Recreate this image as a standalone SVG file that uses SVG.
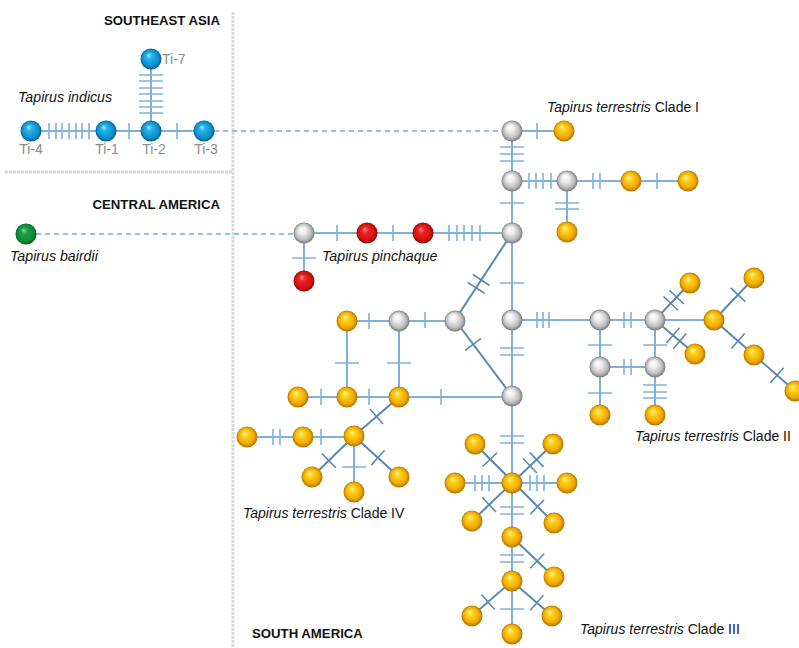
<svg xmlns="http://www.w3.org/2000/svg" xmlns:xlink="http://www.w3.org/1999/xlink" width="799" height="648" viewBox="0 0 799 648">
<defs>
<radialGradient id="gY" cx="0.5" cy="0.5" r="0.5" fx="0.38" fy="0.3"><stop offset="0" stop-color="#fff5b0"/><stop offset="0.3" stop-color="#ffd21a"/><stop offset="0.75" stop-color="#f0a800"/><stop offset="1" stop-color="#b07400"/></radialGradient>
<radialGradient id="gG" cx="0.5" cy="0.5" r="0.5" fx="0.38" fy="0.3"><stop offset="0" stop-color="#ffffff"/><stop offset="0.35" stop-color="#eeeeee"/><stop offset="0.75" stop-color="#bdbdbd"/><stop offset="1" stop-color="#7a7a7a"/></radialGradient>
<radialGradient id="gB" cx="0.5" cy="0.5" r="0.5" fx="0.38" fy="0.3"><stop offset="0" stop-color="#a8e8ff"/><stop offset="0.3" stop-color="#22b2ec"/><stop offset="0.8" stop-color="#0d8cc8"/><stop offset="1" stop-color="#065a8a"/></radialGradient>
<radialGradient id="gR" cx="0.5" cy="0.5" r="0.5" fx="0.38" fy="0.3"><stop offset="0" stop-color="#ff9a9a"/><stop offset="0.3" stop-color="#f02424"/><stop offset="0.8" stop-color="#d01010"/><stop offset="1" stop-color="#880000"/></radialGradient>
<radialGradient id="gN" cx="0.5" cy="0.5" r="0.5" fx="0.38" fy="0.3"><stop offset="0" stop-color="#7ee09a"/><stop offset="0.3" stop-color="#1ea048"/><stop offset="0.8" stop-color="#0f8a38"/><stop offset="1" stop-color="#075a20"/></radialGradient>
<line id="x" x1="0" y1="-10" x2="0" y2="10" stroke="#5a88b4" stroke-width="1.6"/>
<style>
.e{stroke:#80b1dc;stroke-width:2;fill:none}
.d{stroke:#5a88b4;stroke-width:2;fill:none}
.t{stroke:#80b1dc;stroke-width:1.6;fill:none}
.dash{stroke:#8fc0ec;stroke-width:1.8;stroke-dasharray:5 4;fill:none}
.div{stroke:#d8d8d8;stroke-width:3;fill:none;stroke-dasharray:3 1}
.y{fill:url(#gY)}.g{fill:url(#gG)}.b{fill:url(#gB)}.r{fill:url(#gR)}.n{fill:url(#gN)}
.hd{font-family:"Liberation Sans",Arial,sans-serif;font-weight:bold;font-size:13.2px;fill:#111}
.it{font-family:"Liberation Sans",Arial,sans-serif;font-style:italic;font-size:14.2px;fill:#111}
.lb{font-family:"Liberation Sans",Arial,sans-serif;font-size:14px;fill:#111}
.ti{font-family:"Liberation Sans",Arial,sans-serif;font-size:14px;fill:#8c8c8c}
</style>
</defs>
<rect width="799" height="648" fill="#ffffff"/>
<g id="dividers">
<line class="div" x1="233" y1="12" x2="233" y2="648"/>
<line class="div" x1="5" y1="172" x2="233" y2="172"/>
</g>
<g id="regions">
<text class="hd" x="220" y="25" text-anchor="end">SOUTHEAST ASIA</text>
<text class="hd" x="220" y="209" text-anchor="end">CENTRAL AMERICA</text>
<text class="hd" x="252" y="638">SOUTH AMERICA</text>
</g>
<g id="connectors">
<path class="dash" d="M214 131H502M36 234H294"/>
<path class="e" d="M31 131H204M151 131V59M512 131H564M512 131V233M512 181H688M567 181V232M304 233H512M304 233V281M512 233V396M347 321H455M347 321V397M399 321V397M298 397H512M247 437H354M354 436V492M512 320H655M655 320H714M600 320V415M655 320V415M600 367H655M512 396V634M455 483H567"/>
<path class="d" d="M512 233L455 320L512 396M655 320L690 283M655 320L695 354M714 320L754 278M714 320L754 355L795 391M399 397L354 436L312 477M354 436L399 477M475 444L553 522M553 444L472 521M512 537L554 577M472 616L512 581L552 616"/>
<path class="t" d="M49 123v16M56 123v16M62 123v16M69 123v16M76 123v16M82 123v16M89 123v16M129 123v16M177 123v16M537 123v16M529 173v16M536 173v16M543 173v16M551 173v16M593 173v16M600 173v16M657 173v16M337 225v16M393 225v16M449 225v16M457 225v16M464 225v16M472 225v16M480 225v16M369 313v16M425 312v16M537 312v16M543 312v16M549 312v16M624 312v16M631 312v16M624 359v16M631 359v16M321 389v16M369 389v16M441 389v16M273 429v16M280 429v16M321 429v16M475 475v16M482 475v16M489 475v16M530 475v16M537 475v16M544 475v16"/>
<path class="t" d="M139 75h24M139 81h24M139 88h24M139 94h24M139 101h24M139 107h24M139 113h24M500 147h24M500 154h24M500 161h24M500 203h24M555 203h24M555 209h24M292 258h24M500 283h24M500 348h24M500 355h24M588 345h24M643 345h24M588 393h24M643 385h24M643 392h24M643 398h24M335 363h24M387 363h24M342 467h24M500 436h24M500 443h24M500 507h24M500 514h24M500 555h24M500 562h24M500 609h24"/>
<use href="#x" transform="translate(481.2 280) rotate(123.2)"/>
<use href="#x" transform="translate(476.1 287.8) rotate(123.2)"/>
<use href="#x" transform="translate(473.2 344.3) rotate(53.1)"/>
<use href="#x" transform="translate(670.8 303.4) rotate(-46.6)"/>
<use href="#x" transform="translate(676.7 297.1) rotate(-46.6)"/>
<use href="#x" transform="translate(673 335.3) rotate(40.4)"/>
<use href="#x" transform="translate(679.8 341.1) rotate(40.4)"/>
<use href="#x" transform="translate(738 294.8) rotate(-46.4)"/>
<use href="#x" transform="translate(738 341) rotate(41.2)"/>
<use href="#x" transform="translate(777 375.2) rotate(41.3)"/>
<use href="#x" transform="translate(376.5 416.5) rotate(139.1)"/>
<use href="#x" transform="translate(328.8 460.6) rotate(135.7)"/>
<use href="#x" transform="translate(377.9 457.7) rotate(42.3)"/>
<use href="#x" transform="translate(489.8 459.6) rotate(46.5)"/>
<use href="#x" transform="translate(530 465.8) rotate(-43.6)"/>
<use href="#x" transform="translate(536.6 459.6) rotate(-43.6)"/>
<use href="#x" transform="translate(489.2 504.7) rotate(136.5)"/>
<use href="#x" transform="translate(537.2 507) rotate(43.6)"/>
<use href="#x" transform="translate(537.2 561) rotate(43.6)"/>
<use href="#x" transform="translate(488 602) rotate(138.8)"/>
<use href="#x" transform="translate(536.8 602.7) rotate(41.2)"/>
</g>
<g id="labels">
<text class="it" x="18" y="102">Tapirus indicus</text>
<text class="it" x="10" y="261">Tapirus bairdii</text>
<text class="it" x="322" y="261">Tapirus pinchaque</text>
<text class="lb" x="547" y="112"><tspan font-style="italic">Tapirus terrestris</tspan> Clade I</text>
<text class="lb" x="635" y="441"><tspan font-style="italic">Tapirus terrestris</tspan> Clade II</text>
<text class="lb" x="580" y="634"><tspan font-style="italic">Tapirus terrestris</tspan> Clade III</text>
<text class="lb" x="243" y="518"><tspan font-style="italic">Tapirus terrestris</tspan> Clade IV</text>
</g>
<g id="n-ti4"><circle class="b" cx="31" cy="131" r="10.5"/><text class="ti" x="31" y="154" text-anchor="middle">Ti-4</text></g>
<g id="n-ti1"><circle class="b" cx="106" cy="131" r="10.5"/><text class="ti" x="107" y="154" text-anchor="middle">Ti-1</text></g>
<g id="n-ti2"><circle class="b" cx="151" cy="131" r="10.5"/><text class="ti" x="154" y="154" text-anchor="middle">Ti-2</text></g>
<g id="n-ti3"><circle class="b" cx="204" cy="131" r="10.5"/><text class="ti" x="206" y="154" text-anchor="middle">Ti-3</text></g>
<g id="n-ti7"><circle class="b" cx="151" cy="59" r="10.5"/><text class="ti" x="162" y="64">Ti-7</text></g>
<g id="n-bairdii"><circle class="n" cx="26" cy="234" r="10.5"/></g>
<g id="n-g1"><circle class="g" cx="512" cy="131" r="10.5"/></g>
<g id="n-g2"><circle class="g" cx="512" cy="181" r="10.5"/></g>
<g id="n-g3"><circle class="g" cx="567" cy="181" r="10.5"/></g>
<g id="n-g4"><circle class="g" cx="512" cy="233" r="10.5"/></g>
<g id="n-g5"><circle class="g" cx="304" cy="233" r="10.5"/></g>
<g id="n-g6"><circle class="g" cx="455" cy="321" r="10.5"/></g>
<g id="n-g7"><circle class="g" cx="399" cy="321" r="10.5"/></g>
<g id="n-g8"><circle class="g" cx="512" cy="320" r="10.5"/></g>
<g id="n-g9"><circle class="g" cx="512" cy="396" r="10.5"/></g>
<g id="n-g10"><circle class="g" cx="600" cy="320" r="10.5"/></g>
<g id="n-g11"><circle class="g" cx="655" cy="320" r="10.5"/></g>
<g id="n-g12"><circle class="g" cx="600" cy="367" r="10.5"/></g>
<g id="n-g13"><circle class="g" cx="655" cy="367" r="10.5"/></g>
<g id="n-r1"><circle class="r" cx="367" cy="233" r="10.5"/></g>
<g id="n-r2"><circle class="r" cx="423" cy="233" r="10.5"/></g>
<g id="n-r3"><circle class="r" cx="304" cy="281" r="10.5"/></g>
<g id="n-y1"><circle class="y" cx="564" cy="131" r="10.5"/></g>
<g id="n-y2"><circle class="y" cx="631" cy="181" r="10.5"/></g>
<g id="n-y3"><circle class="y" cx="688" cy="181" r="10.5"/></g>
<g id="n-y4"><circle class="y" cx="567" cy="232" r="10.5"/></g>
<g id="n-y5"><circle class="y" cx="690" cy="283" r="10.5"/></g>
<g id="n-y6"><circle class="y" cx="754" cy="278" r="10.5"/></g>
<g id="n-y7"><circle class="y" cx="714" cy="320" r="10.5"/></g>
<g id="n-y8"><circle class="y" cx="695" cy="354" r="10.5"/></g>
<g id="n-y9"><circle class="y" cx="754" cy="355" r="10.5"/></g>
<g id="n-y10"><circle class="y" cx="795" cy="391" r="10.5"/></g>
<g id="n-y11"><circle class="y" cx="600" cy="415" r="10.5"/></g>
<g id="n-y12"><circle class="y" cx="655" cy="415" r="10.5"/></g>
<g id="n-y13"><circle class="y" cx="347" cy="321" r="10.5"/></g>
<g id="n-y14"><circle class="y" cx="298" cy="397" r="10.5"/></g>
<g id="n-y15"><circle class="y" cx="347" cy="397" r="10.5"/></g>
<g id="n-y16"><circle class="y" cx="399" cy="397" r="10.5"/></g>
<g id="n-y17"><circle class="y" cx="247" cy="437" r="10.5"/></g>
<g id="n-y18"><circle class="y" cx="303" cy="437" r="10.5"/></g>
<g id="n-y19"><circle class="y" cx="354" cy="436" r="10.5"/></g>
<g id="n-y20"><circle class="y" cx="312" cy="477" r="10.5"/></g>
<g id="n-y21"><circle class="y" cx="354" cy="492" r="10.5"/></g>
<g id="n-y22"><circle class="y" cx="399" cy="477" r="10.5"/></g>
<g id="n-y23"><circle class="y" cx="512" cy="483" r="10.5"/></g>
<g id="n-y24"><circle class="y" cx="475" cy="444" r="10.5"/></g>
<g id="n-y25"><circle class="y" cx="553" cy="444" r="10.5"/></g>
<g id="n-y26"><circle class="y" cx="455" cy="483" r="10.5"/></g>
<g id="n-y27"><circle class="y" cx="567" cy="483" r="10.5"/></g>
<g id="n-y28"><circle class="y" cx="472" cy="521" r="10.5"/></g>
<g id="n-y29"><circle class="y" cx="554" cy="523" r="10.5"/></g>
<g id="n-y30"><circle class="y" cx="512" cy="537" r="10.5"/></g>
<g id="n-y31"><circle class="y" cx="554" cy="577" r="10.5"/></g>
<g id="n-y32"><circle class="y" cx="512" cy="581" r="10.5"/></g>
<g id="n-y33"><circle class="y" cx="472" cy="616" r="10.5"/></g>
<g id="n-y34"><circle class="y" cx="552" cy="616" r="10.5"/></g>
<g id="n-y35"><circle class="y" cx="512" cy="634" r="10.5"/></g>
</svg>
